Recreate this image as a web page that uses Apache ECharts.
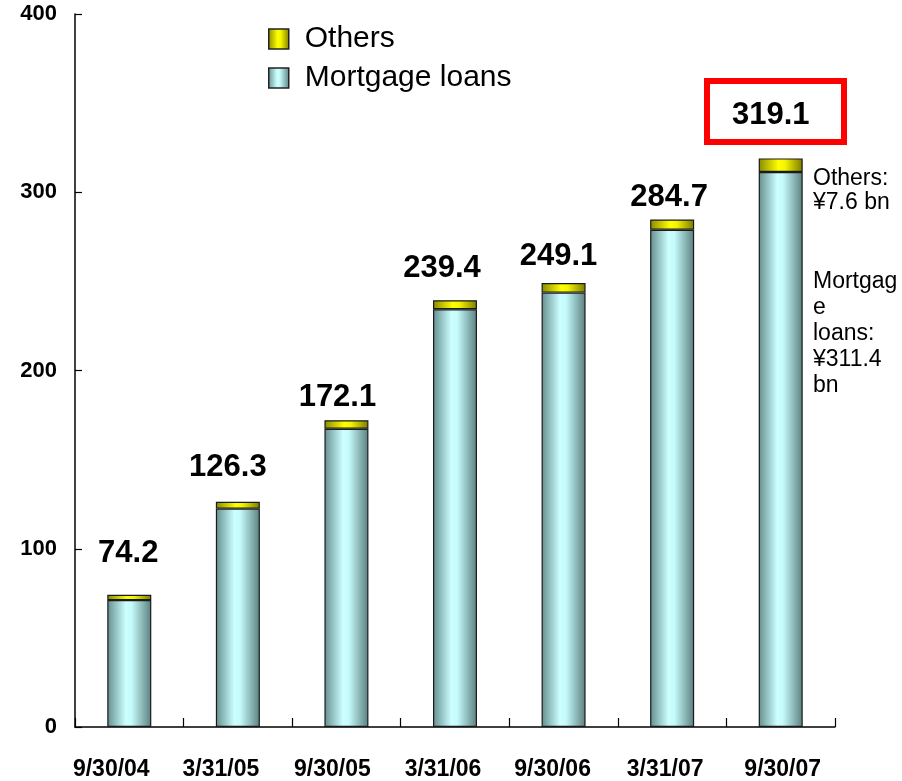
<!DOCTYPE html>
<html>
<head>
<meta charset="utf-8">
<script src="https://cdn.jsdelivr.net/npm/echarts@6/dist/echarts.min.js"></script>
<style>
  html, body { margin: 0; padding: 0; background: #fff; }
  #chart { width: 902px; height: 781px; }
</style>
</head>
<body>
<div id="chart"></div>
<script>
// Loan balance by period end (¥ bn)
const periods = ['9/30/04', '3/31/05', '9/30/05', '3/31/06', '9/30/06', '3/31/07', '9/30/07'];
const totals = [74.2, 126.3, 172.1, 239.4, 249.1, 284.7, 319.1];
const others = [3.0, 3.8, 4.8, 5.0, 5.4, 5.7, 7.6];
const mortgageLoans = [71.2, 122.5, 167.3, 234.4, 243.7, 279.0, 311.4];
const yTicks = [0, 100, 200, 300, 400];

// Nudges for the total labels above each stack: [dx, gap above bar]
const totalLabelShift = [[-1, 26], [-10, 19], [-9, 7], [-13, 16], [-5, 11], [-3, 7], [-10, 27]];
// Horizontal nudges for the period labels under the axis
const periodLabelShift = [-18, -17, -14, -12, -11, -7, 2];

const FONT = 'Liberation Sans, Arial, sans-serif';

const cyanFill = new echarts.graphic.LinearGradient(0, 0, 1, 0, [
  { offset: 0, color: '#658e8e' },
  { offset: 0.42, color: '#ccffff' },
  { offset: 0.55, color: '#c6fbfb' },
  { offset: 1, color: '#5b7f7f' }
]);
const yellowFill = new echarts.graphic.LinearGradient(0, 0, 1, 0, [
  { offset: 0, color: '#8a8a00' },
  { offset: 0.45, color: '#ffff00' },
  { offset: 0.6, color: '#f4f400' },
  { offset: 1, color: '#7a7a00' }
]);

const chart = echarts.init(document.getElementById('chart'), null, { renderer: 'canvas' });

const othersData = others.map((v, i) => ({
  value: v,
  label: {
    show: true,
    position: 'top',
    distance: totalLabelShift[i][1],
    offset: [totalLabelShift[i][0], 0],
    formatter: () => totals[i].toFixed(1)
  }
}));

// One rich style per period label so each can be nudged sideways
const periodRich = {};
periodLabelShift.forEach((dx, i) => {
  periodRich['p' + i] = {
    fontFamily: FONT,
    fontSize: 23,
    fontWeight: 'bold',
    color: '#000',
    padding: dx < 0 ? [0, -2 * dx, 0, 0] : [0, 0, 0, 2 * dx]
  };
});

chart.setOption({
  animation: false,
  backgroundColor: '#ffffff',
  grid: { left: 75, right: 67, top: 14, bottom: 54, containLabel: false },
  legend: {
    orient: 'vertical',
    left: 263,
    top: 19,
    itemWidth: 20,
    itemHeight: 20,
    itemGap: 9,
    icon: 'rect',
    textStyle: { fontFamily: FONT, fontSize: 30, color: '#000', padding: [0, 0, 0, 11] },
    data: [
      { name: 'Others', itemStyle: { color: yellowFill, borderColor: '#222', borderWidth: 1.5 } },
      { name: 'Mortgage loans', itemStyle: { color: cyanFill, borderColor: '#222', borderWidth: 1.5 } }
    ]
  },
  xAxis: {
    type: 'category',
    data: periods,
    axisLine: { lineStyle: { color: '#000', width: 1.5 } },
    axisTick: { show: true, inside: true, length: 9, lineStyle: { color: '#000', width: 1.2 } },
    axisLabel: {
      margin: 31,
      formatter: (value, index) => '{p' + index + '|' + value + '}',
      rich: periodRich
    }
  },
  yAxis: {
    type: 'value',
    min: yTicks[0],
    max: yTicks[yTicks.length - 1],
    interval: yTicks[1] - yTicks[0],
    splitLine: { show: false },
    axisLine: { show: true, lineStyle: { color: '#000', width: 1.5 } },
    axisTick: { show: true, inside: true, length: 7, lineStyle: { color: '#000', width: 1.2 } },
    axisLabel: { fontFamily: FONT, fontSize: 22, fontWeight: 'bold', color: '#000', margin: 18 }
  },
  series: [
    {
      name: 'Mortgage loans',
      type: 'bar',
      stack: 'loans',
      barWidth: 44,
      data: mortgageLoans,
      itemStyle: { color: cyanFill, borderColor: '#1a1a1a', borderWidth: 1.2 }
    },
    {
      name: 'Others',
      type: 'bar',
      stack: 'loans',
      barWidth: 44,
      data: othersData,
      itemStyle: { color: yellowFill, borderColor: '#1a1a1a', borderWidth: 1.2 },
      label: {
        fontFamily: FONT,
        fontSize: 31,
        fontWeight: 'bold',
        color: '#000'
      }
    }
  ],
  graphic: [
    {
      type: 'rect',
      left: 704,
      top: 78,
      shape: { width: 137, height: 61 },
      style: { fill: 'none', stroke: '#ff0000', lineWidth: 6 },
      z: 10
    },
    {
      type: 'text',
      left: 813,
      top: 167,
      style: {
        text: 'Others:\n¥7.6 bn',
        font: '23px ' + FONT,
        fill: '#000',
        lineHeight: 24
      }
    },
    {
      type: 'text',
      left: 813,
      top: 269,
      style: {
        text: 'Mortgag\ne\nloans:\n¥311.4\nbn',
        font: '23px ' + FONT,
        fill: '#000',
        lineHeight: 26
      }
    }
  ]
});
</script>
</body>
</html>
